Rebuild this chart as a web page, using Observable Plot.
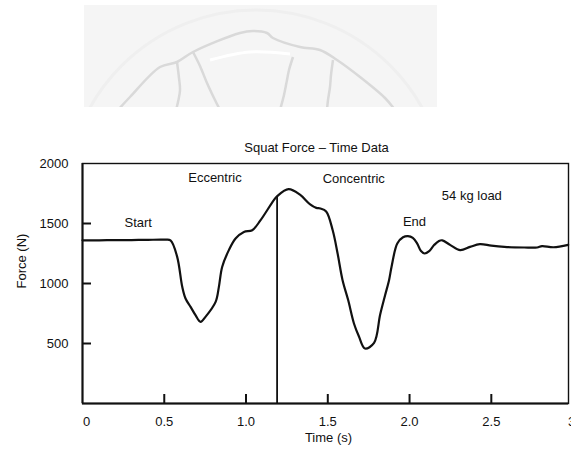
<!DOCTYPE html>
<html>
<head>
<meta charset="utf-8">
<script src="https://cdn.jsdelivr.net/npm/d3@7"></script>
<script src="https://cdn.jsdelivr.net/npm/@observablehq/plot@0.6"></script>
<style>
  html, body { margin: 0; padding: 0; background: #fff; overflow: hidden; }
  #chart svg { max-width: none; }
</style>
</head>
<body>
<div id="chart"></div>
<script>
// ---- data ----
const timeS = [0, 0.1, 0.2, 0.3, 0.4, 0.5, 0.538, 0.579, 0.61, 0.63, 0.661, 0.691, 0.722, 0.752, 0.814, 0.834, 0.854, 0.895, 0.936, 0.987, 1.038, 1.089, 1.17, 1.19, 1.26, 1.33, 1.39, 1.43, 1.455, 1.49, 1.53, 1.56, 1.59, 1.625, 1.66, 1.69, 1.727, 1.783, 1.82, 1.85, 1.875, 1.89, 1.925, 1.96, 1.99, 2.02, 2.047, 2.07, 2.092, 2.12, 2.15, 2.18, 2.2, 2.25, 2.31, 2.37, 2.43, 2.5, 2.58, 2.7, 2.78, 2.81, 2.88, 2.97];
const forceN = [1360, 1360, 1362, 1362, 1364, 1365, 1360, 1222, 972, 875, 805, 736, 680, 722, 847, 972, 1138, 1278, 1375, 1430, 1444, 1528, 1695, 1727, 1786, 1740, 1662, 1630, 1625, 1600, 1444, 1250, 1030, 860, 667, 560, 458, 505, 740, 900, 1030, 1140, 1333, 1385, 1395, 1380, 1333, 1270, 1250, 1270, 1320, 1355, 1360, 1320, 1278, 1305, 1328, 1315, 1305, 1300, 1300, 1312, 1302, 1322];

const phaseT = [1.19];          // vertical marker between eccentric and concentric
const phaseF = [1727];

const noteLabels = ["Start", "Eccentric", "Concentric", "54 kg load", "End"];
const noteT = [0.341, 0.81, 1.659, 2.381, 2.03];
const noteF = [1505, 1877, 1875, 1727, 1513];

const xTicks = [0.5, 1.0, 1.5, 2.0, 2.5];
const xEdgeTicks = [0, 3.0];
const xTickMarks = [0.5, 1.0, 1.5, 2.0, 2.5];
const yTicks = [500, 1000, 1500, 2000];
const yTickMarks = [500, 1000, 1500];

const title = "Squat Force – Time Data";
const xLabel = "Time (s)";
const yLabel = "Force (N)";

// ---- build tables ----
const series = timeS.map((t, i) => ({t, f: forceN[i]}));
const phase = phaseT.map((t, i) => ({t, f: phaseF[i]}));
const notes = noteLabels.map((s, i) => ({s, t: noteT[i], f: noteF[i]}));
const fmt = d => d === 0 ? "0" : d.toFixed(1);

const ink = "#111";
const plot = Plot.plot({
  width: 571,
  height: 452,
  marginTop: 163,
  marginBottom: 49,
  marginLeft: 82,
  marginRight: 3,
  style: {fontFamily: "'Liberation Sans', Arial, Helvetica, sans-serif", fontSize: "13px", color: ink, background: "transparent", overflow: "visible"},
  x: {domain: [0, 2.972]},
  y: {domain: [0, 2000]},
  marks: [
    Plot.frame({stroke: ink, strokeWidth: 1.4}),
    Plot.ruleX([0], {stroke: ink, strokeWidth: 2}),
    Plot.ruleY([0], {stroke: ink, strokeWidth: 2}),
    Plot.tickY(yTickMarks, {y: d => d, insetRight: 477, stroke: ink, strokeWidth: 2}),
    Plot.tickX(xTickMarks, {x: d => d, insetTop: 231, stroke: ink, strokeWidth: 2}),
    Plot.axisX(xTicks, {tickSize: 0, tickPadding: 13, tickFormat: fmt, label: null, fill: ink}),
    Plot.text(xEdgeTicks, {x: d => d, frameAnchor: "bottom", text: fmt, lineAnchor: "top", dx: 4, dy: 13, fill: ink}),
    Plot.axisY(yTicks, {tickSize: 0, tickPadding: 14, tickFormat: d3.format("d"), label: null, fill: ink}),
    Plot.ruleX(phase, {x: "t", y1: 0, y2: "f", stroke: ink, strokeWidth: 1.8}),
    Plot.line(series, {x: "t", y: "f", curve: "catmull-rom", stroke: ink, strokeWidth: 2.2}),
    Plot.text(notes, {x: "t", y: "f", text: "s", fill: ink}),
    Plot.text([title], {frameAnchor: "top", dx: -9, dy: -21, fill: ink}),
    Plot.text([xLabel], {frameAnchor: "bottom", dx: 3, dy: 38, fill: ink}),
    Plot.text([yLabel], {frameAnchor: "left", rotate: -90, dx: -61, dy: 5, fill: ink})
  ]
});
document.getElementById("chart").append(plot);

// ---- faint watermark decoration above the chart ----
const svg = d3.select(plot);
const wm = svg.insert("g", ":first-child");
wm.append("defs").append("clipPath").attr("id", "wmclip")
  .append("rect").attr("x", 84).attr("y", 5).attr("width", 353).attr("height", 102);
wm.append("rect").attr("x", 84).attr("y", 5).attr("width", 353).attr("height", 102).attr("fill", "#f5f5f5");
const g = wm.append("g").attr("clip-path", "url(#wmclip)").attr("fill", "none").attr("stroke-linejoin", "round");
g.append("circle").attr("cx", 256).attr("cy", 200).attr("r", 190).attr("stroke", "#efefef").attr("stroke-width", 3);
const paths = [
  [[118,110],[130,97],[160,67],[177,62],[193,52],[240,33],[253,31],[267,33],[273,38],[300,47],[320,50],[337,60],[360,77],[385,98],[395,110]],
  [[193,52],[200,66],[207,83],[214,98],[220,110]],
  [[293,57],[289,70],[287,80],[284,95],[280,110]],
  [[333,60],[331,75],[330,87],[328,100],[327,110]],
  [[177,62],[179,78],[180,90],[178,102],[176,110]]
];
const lineGen = d3.line().curve(d3.curveCatmullRom);
paths.forEach(p => g.append("path").attr("d", lineGen(p)).attr("stroke", "#d9d9d9").attr("stroke-width", 2.5));
g.append("path").attr("d", lineGen([[210,60],[250,52],[290,54]])).attr("stroke", "#ffffff").attr("stroke-width", 3);
</script>
</body>
</html>
